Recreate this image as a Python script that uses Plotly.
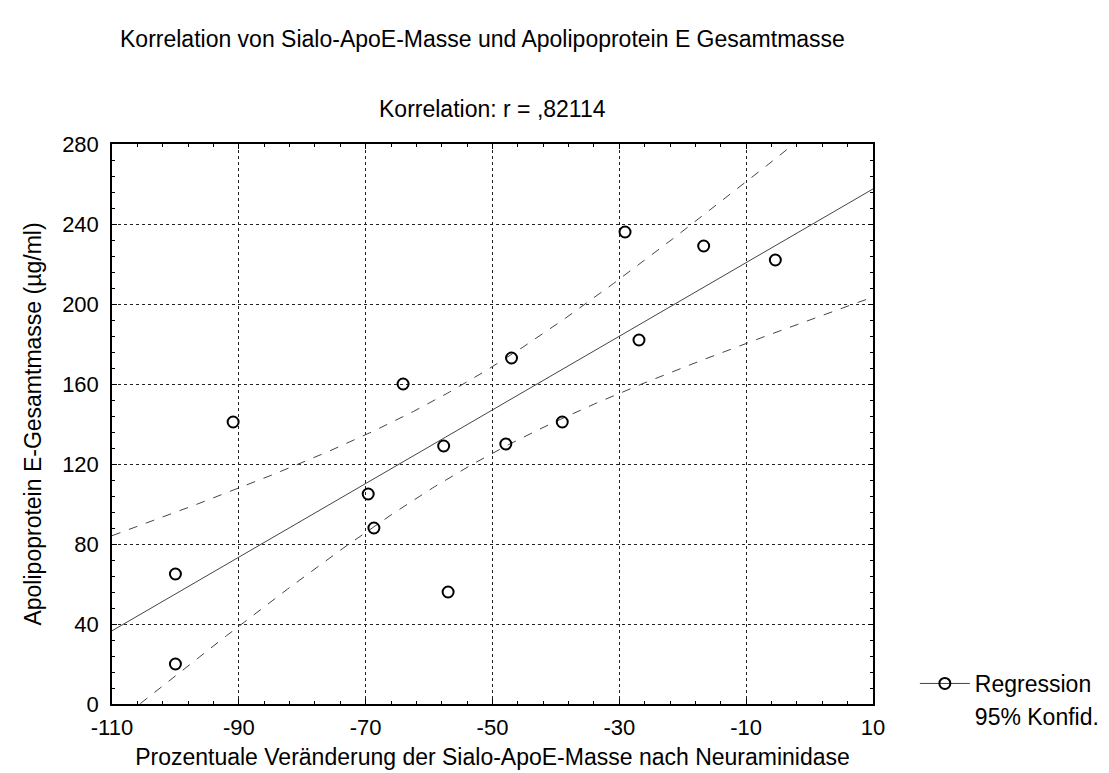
import numpy as np
import plotly.graph_objects as go

# ---- data ----
sialo_change = [-100.0, -100.0, -90.9, -69.6, -68.7, -64.1, -57.7, -57.0,
                -47.9, -47.0, -39.0, -29.1, -26.9, -16.7, -5.4]
apoe_total = [65, 20, 141, 105, 88, 160, 129, 56,
              130, 173, 141, 236, 182, 229, 222]

x_ticks = [-110, -90, -70, -50, -30, -10, 10]
y_ticks = [0, 40, 80, 120, 160, 200, 240, 280]

title_main = "Korrelation von Sialo-ApoE-Masse und Apolipoprotein E Gesamtmasse"
title_sub = "Korrelation: r = ,82114"
x_title = "Prozentuale Veränderung der Sialo-ApoE-Masse nach Neuraminidase"
y_title = "Apolipoprotein E-Gesamtmasse (µg/ml)"

# ---- regression + 95% confidence band of the mean ----
x = np.array(sialo_change)
y = np.array(apoe_total, dtype=float)
n = len(x)
b1, b0 = np.polyfit(x, y, 1)
resid = y - (b0 + b1 * x)
s = np.sqrt(np.sum(resid ** 2) / (n - 2))
sxx = np.sum((x - x.mean()) ** 2)
t_crit = 2.1604  # t(0.975, df=13)
xs = np.linspace(-110, 10, 400)
ys = b0 + b1 * xs
half = t_crit * s * np.sqrt(1.0 / n + (xs - x.mean()) ** 2 / sxx)

FONT = "Liberation Sans, Arial, sans-serif"
FS = 23
FT = 22

fig = go.Figure()
fig.add_trace(go.Scatter(x=xs, y=ys, mode="lines",
                         line=dict(color="#444444", width=1), showlegend=False))
fig.add_trace(go.Scatter(x=xs, y=ys + half, mode="lines",
                         line=dict(color="#444444", width=1, dash="dash"), showlegend=False))
fig.add_trace(go.Scatter(x=xs, y=ys - half, mode="lines",
                         line=dict(color="#444444", width=1, dash="dash"), showlegend=False))
fig.add_trace(go.Scatter(x=sialo_change, y=apoe_total, mode="markers",
                         marker=dict(symbol="circle-open", size=11, color="black",
                                     line=dict(width=2, color="black")),
                         showlegend=False))
# legend entries
fig.add_trace(go.Scatter(x=[None], y=[None], mode="lines+markers", name="Regression",
                         line=dict(color="#444444", width=1),
                         marker=dict(symbol="circle-open", size=11, color="black",
                                     line=dict(width=2, color="black"))))
fig.add_trace(go.Scatter(x=[None], y=[None], mode="lines", name="95% Konfid.",
                         line=dict(color="rgba(0,0,0,0)", width=1)))

axis_common = dict(showline=True, linecolor="black", linewidth=1.5, mirror="ticks",
                   ticks="inside", ticklen=5, tickcolor="black", automargin=False,
                   showgrid=True, gridcolor="#222222", gridwidth=1, griddash="dot",
                   zeroline=False, tickfont=dict(family=FONT, size=FT, color="black"))

fig.update_xaxes(range=[-110, 10], tickvals=x_ticks, ticktext=[str(v) for v in x_ticks],
                 minor=dict(tick0=-110, dtick=4, ticks="inside", ticklen=3,
                            tickcolor="black", showgrid=False),
                 ticklabelstandoff=3,
                 title=dict(text=x_title, font=dict(family=FONT, size=FS, color="black"),
                            standoff=10),
                 **axis_common)
fig.update_yaxes(range=[0, 280], tickvals=y_ticks, ticktext=[str(v) for v in y_ticks],
                 minor=dict(tick0=0, dtick=8, ticks="inside", ticklen=3,
                            tickcolor="black", showgrid=False),
                 ticklabelstandoff=7,
                 title=dict(text=y_title, font=dict(family=FONT, size=FS, color="black"),
                            standoff=14),
                 **axis_common)

fig.update_layout(
    width=1109, height=773,
    margin=dict(l=104, r=230, t=136, b=77),
    paper_bgcolor="white", plot_bgcolor="white",
    font=dict(family=FONT, size=FS, color="black"),
    showlegend=True,
    legend=dict(x=1.055, y=0.075, xanchor="left", yanchor="top",
                bgcolor="rgba(0,0,0,0)", font=dict(family=FONT, size=FS, color="black"),
                tracegroupgap=0, itemwidth=50),
    annotations=[
        dict(text=title_main, xref="paper", yref="paper", x=0.487, y=1.188,
             xanchor="center", yanchor="middle", showarrow=False,
             font=dict(family=FONT, size=FS, color="black")),
        dict(text=title_sub, xref="paper", yref="paper", x=0.5, y=1.062,
             xanchor="center", yanchor="middle", showarrow=False,
             font=dict(family=FONT, size=FS, color="black")),
    ],
)

fig.write_html("out.html")
